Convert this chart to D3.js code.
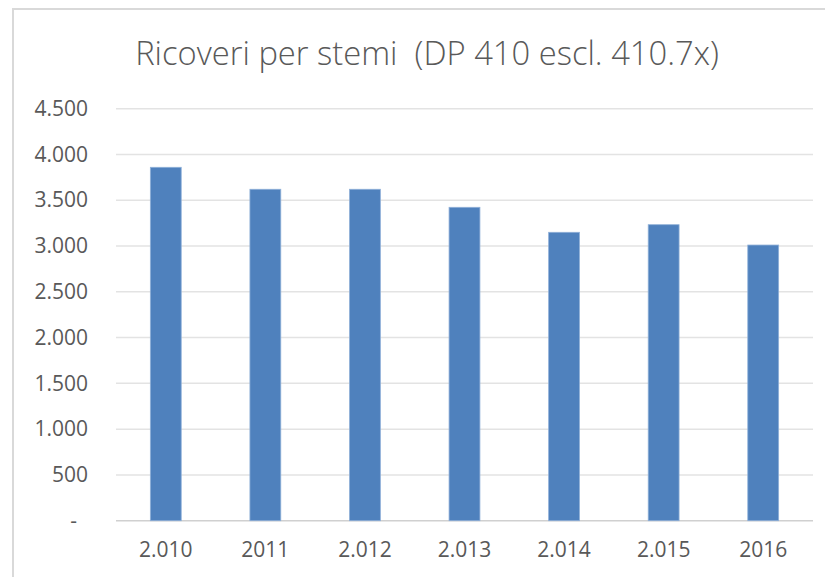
<!DOCTYPE html>
<html>
<head>
<meta charset="utf-8">
<script src="https://cdn.jsdelivr.net/npm/d3@7"></script>
<style>
  body { margin: 0; background: #fff; }
  text { font-family: "Open Sans", "Liberation Sans", sans-serif; fill: #595959; }
</style>
</head>
<body>
<div id="chart"></div>
<script>
// data
var years = ["2.010", "2011", "2.012", "2.013", "2.014", "2.015", "2016"];
var ricoveri = [3860, 3620, 3620, 3423, 3150, 3233, 3011];
var yTicks = [0, 500, 1000, 1500, 2000, 2500, 3000, 3500, 4000, 4500];
var title = "Ricoveri per stemi  (DP 410 escl. 410.7x)";

var width = 825, height = 577;
var margin = {top: 108.7, right: 12, bottom: 56.3, left: 116};
var innerW = width - margin.left - margin.right;
var innerH = height - margin.top - margin.bottom;

var svg = d3.select("#chart")
  .append("svg")
    .attr("width", width)
    .attr("height", height);

// outer frame of the chart object (runs off the right / bottom edge)
svg.append("rect")
  .attr("x", 13).attr("y", 9)
  .attr("width", 830).attr("height", 600)
  .attr("fill", "none")
  .attr("stroke", "#d9d9d9")
  .attr("stroke-width", 2);

// title, fitted to the width it has in the picture
var t = svg.append("text")
  .attr("x", 427).attr("y", 65)
  .attr("text-anchor", "middle")
  .attr("xml:space", "preserve")
  .style("white-space", "pre")
  .style("font-weight", 300)
  .style("font-size", "28px")
  .text(title);
var tw = t.node().getComputedTextLength();
t.style("font-size", (28 * 584 / tw) + "px");

var g = svg.append("g")
  .attr("transform", "translate(" + margin.left + "," + margin.top + ")");

var x = d3.scaleBand()
  .domain(years)
  .range([0, innerW])
  .paddingInner(0.69)
  .paddingOuter(0.345);

var y = d3.scaleLinear()
  .domain([0, 4500])
  .range([innerH, 0]);

var fmt = function(d) { return d === 0 ? "-" : d3.format(",")(d).replace(/,/g, "."); };

// gridlines
g.append("g")
  .selectAll("line")
  .data(yTicks)
  .enter().append("line")
    .attr("x1", 0).attr("x2", innerW)
    .attr("y1", function(d) { return y(d); })
    .attr("y2", function(d) { return y(d); })
    .attr("stroke", function(d) { return d === 0 ? "#d0d0d0" : "#e3e3e3"; })
    .attr("stroke-width", 1.5);

// y axis labels
var yAxis = g.append("g")
  .attr("transform", "translate(-28,0)")
  .call(d3.axisLeft(y).tickValues(yTicks).tickFormat(fmt).tickSize(0).tickPadding(0));
yAxis.select(".domain").remove();
yAxis.selectAll("text")
  .style("font-size", "21px")
  .attr("fill", "#595959")
  .attr("dx", function(d) { return d === 0 ? -11 : 0; });

// bars
g.append("g")
  .selectAll("rect")
  .data(ricoveri)
  .enter().append("rect")
    .attr("x", function(d, i) { return x(years[i]); })
    .attr("y", function(d) { return y(d); })
    .attr("width", x.bandwidth())
    .attr("height", function(d) { return y(0) - y(d); })
    .attr("fill", "#4f81bd")
    .attr("stroke", "#8fb0d8")
    .attr("stroke-width", 0.8);

// x axis labels
var xAxis = g.append("g")
  .attr("transform", "translate(0," + innerH + ")")
  .call(d3.axisBottom(x).tickSize(0).tickPadding(21));
xAxis.select(".domain").remove();
xAxis.selectAll("text")
  .style("font-size", "21px")
  .attr("fill", "#595959");
</script>
</body>
</html>
